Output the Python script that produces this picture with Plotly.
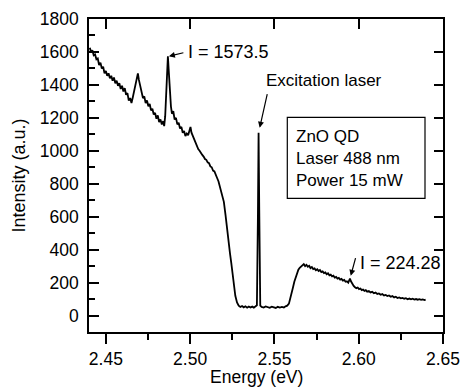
import plotly.graph_objects as go

energy_ev = [
    2.4405, 2.4412, 2.4420, 2.4428, 2.4436, 2.4444, 2.4452, 2.4460, 2.4468, 2.4476,
    2.4484, 2.4492, 2.4500, 2.4508, 2.4516, 2.4524, 2.4532, 2.4540, 2.4548, 2.4556,
    2.4564, 2.4572, 2.4580, 2.4588, 2.4596, 2.4604, 2.4612, 2.4620, 2.4628, 2.4636,
    2.4644, 2.4652, 2.4660, 2.4668, 2.4676, 2.4684, 2.4690, 2.4696, 2.4704, 2.4712,
    2.4720, 2.4728, 2.4736, 2.4744, 2.4752, 2.4760, 2.4768, 2.4776, 2.4784, 2.4792,
    2.4800, 2.4808, 2.4816, 2.4824, 2.4832, 2.4840, 2.4846, 2.4852, 2.4858, 2.4864,
    2.4868, 2.4874, 2.4880, 2.4886, 2.4892, 2.4900, 2.4908, 2.4916, 2.4924, 2.4932,
    2.4940, 2.4948, 2.4956, 2.4964, 2.4972, 2.4980, 2.4988, 2.4996, 2.5002, 2.5008,
    2.5016, 2.5024, 2.5032, 2.5040, 2.5048, 2.5056, 2.5064, 2.5072, 2.5080, 2.5088,
    2.5096, 2.5104, 2.5112, 2.5120, 2.5128, 2.5136, 2.5144, 2.5152, 2.5160, 2.5168,
    2.5176, 2.5184, 2.5192, 2.5200, 2.5210, 2.5219, 2.5228, 2.5236, 2.5244, 2.5252,
    2.5260, 2.5268, 2.5278, 2.5288, 2.5298, 2.5308, 2.5318, 2.5328, 2.5338, 2.5348,
    2.5358, 2.5368, 2.5378, 2.5388, 2.5396, 2.5402, 2.5406, 2.5410, 2.5416, 2.5424,
    2.5436, 2.5448, 2.5460, 2.5472, 2.5484, 2.5496, 2.5508, 2.5520, 2.5532, 2.5544,
    2.5556, 2.5566, 2.5576, 2.5586, 2.5594, 2.5602, 2.5610, 2.5618, 2.5626, 2.5634,
    2.5642, 2.5650, 2.5658, 2.5666, 2.5674, 2.5682, 2.5690, 2.5698, 2.5706, 2.5714,
    2.5722, 2.5730, 2.5738, 2.5746, 2.5754, 2.5762, 2.5770, 2.5778, 2.5786, 2.5794,
    2.5802, 2.5810, 2.5818, 2.5826, 2.5834, 2.5842, 2.5850, 2.5858, 2.5866, 2.5874,
    2.5882, 2.5890, 2.5898, 2.5906, 2.5914, 2.5922, 2.5930, 2.5938, 2.5944, 2.5948,
    2.5954, 2.5962, 2.5970, 2.5978, 2.5986, 2.5994, 2.6002, 2.6010, 2.6018, 2.6026,
    2.6034, 2.6042, 2.6050, 2.6060, 2.6070, 2.6080, 2.6090, 2.6100, 2.6110, 2.6120,
    2.6130, 2.6140, 2.6150, 2.6160, 2.6170, 2.6180, 2.6190, 2.6200, 2.6210, 2.6220,
    2.6230, 2.6240, 2.6250, 2.6260, 2.6270, 2.6280, 2.6290, 2.6300, 2.6310, 2.6320,
    2.6330, 2.6340, 2.6350, 2.6360, 2.6370, 2.6380, 2.6390, 2.6397,
]

intensity_au = [
    1625, 1600, 1610, 1580, 1585, 1555, 1560, 1520, 1535, 1500,
    1510, 1470, 1485, 1455, 1470, 1440, 1455, 1425, 1445, 1410,
    1425, 1395, 1410, 1375, 1395, 1360, 1380, 1340, 1350, 1305,
    1320, 1290, 1325, 1360, 1395, 1440, 1470, 1430, 1390, 1365,
    1320, 1330, 1290, 1305, 1270, 1285, 1245, 1255, 1220, 1230,
    1195, 1215, 1175, 1190, 1160, 1180, 1150, 1210, 1330, 1480,
    1573, 1470, 1360, 1270, 1225, 1240, 1190, 1200, 1160, 1170,
    1135, 1145, 1110, 1120, 1090, 1105, 1095, 1120, 1145, 1110,
    1090, 1065, 1050, 1030, 1010, 1000, 985, 975, 965, 950,
    945, 930, 925, 905, 900, 880, 875, 850, 835, 815,
    785, 745, 715, 690, 610, 520, 450, 380, 320, 250,
    180, 120, 80, 60, 52, 58, 50, 56, 48, 55,
    49, 54, 48, 55, 62, 600, 1110, 640, 60, 52,
    48, 55, 50, 47, 54, 49, 46, 53, 48, 52,
    49, 56, 60, 72, 100, 135, 170, 205, 235, 260,
    278, 290, 296, 305, 312, 300, 308, 296, 302, 288,
    294, 282, 286, 275, 281, 270, 276, 264, 268, 258,
    262, 250, 256, 244, 248, 238, 242, 230, 234, 224,
    228, 218, 222, 212, 216, 205, 208, 200, 212, 224,
    208, 192, 180, 172, 166, 170, 160, 164, 154, 158,
    150, 154, 145, 149, 140, 144, 135, 139, 131, 134,
    126, 130, 122, 125, 118, 122, 114, 118, 110, 114,
    106, 110, 104, 107, 102, 105, 99, 103, 98, 102,
    97, 100, 96, 99, 95, 98, 94, 97,
]

x_tick_values = [2.45, 2.50, 2.55, 2.60, 2.65]
x_tick_labels = ["2.45", "2.50", "2.55", "2.60", "2.65"]
y_tick_values = [0, 200, 400, 600, 800, 1000, 1200, 1400, 1600, 1800]
y_tick_labels = [str(v) for v in y_tick_values]

x_title = "Energy (eV)"
y_title = "Intensity (a.u.)"
peak_label = "I = 1573.5"
laser_label = "Excitation laser"
small_peak_label = "I = 224.28"
info_lines = ["ZnO QD", "Laser 488 nm", "Power 15 mW"]

peak_idx = energy_ev.index(2.4868)
laser_idx = energy_ev.index(2.5406)
small_idx = energy_ev.index(2.5948)

FONT = "Liberation Sans, Arial, sans-serif"
XR = [2.44, 2.65]
YR = [-100, 1800]

fig = go.Figure()
fig.add_trace(go.Scatter(
    x=energy_ev, y=intensity_au, mode="lines",
    line=dict(color="black", width=1.8), showlegend=False, hoverinfo="skip",
))
# dummy trace to realise the mirrored (top/right) axes
fig.add_trace(go.Scatter(x=[], y=[], xaxis="x2", yaxis="y2", showlegend=False))

axis_common = dict(showgrid=False, zeroline=False, linecolor="black", linewidth=1.5,
                   tickcolor="black", tickwidth=1.5, automargin=False)

fig.update_layout(
    width=461, height=387,
    margin=dict(l=89, r=18, t=19, b=55),
    paper_bgcolor="white", plot_bgcolor="white",
    font=dict(family=FONT, color="black", size=17.5),
    xaxis=dict(range=XR, tickvals=x_tick_values, ticktext=x_tick_labels,
               ticks="outside", ticklen=10, showline=True, mirror=True,
               tickfont=dict(size=17.5), ticklabelstandoff=0,
               minor=dict(ticks="outside", dtick=0.025, tick0=2.45, ticklen=6,
                          tickcolor="black", tickwidth=1.5),
               **axis_common),
    yaxis=dict(range=YR, tickvals=y_tick_values, ticktext=y_tick_labels,
               ticks="inside", ticklen=10, showline=True, mirror=True,
               tickfont=dict(size=17.5), ticklabelstandoff=5,
               minor=dict(ticks="inside", dtick=100, tick0=100, ticklen=6,
                          tickcolor="black", tickwidth=1.5),
               title=dict(text=y_title, font=dict(size=18), standoff=10),
               **axis_common),
    xaxis2=dict(range=XR, overlaying="x", side="top", anchor="y",
                tickvals=x_tick_values, showticklabels=False,
                ticks="inside", ticklen=10, showline=False, **axis_common),
    yaxis2=dict(range=YR, overlaying="y", side="right", anchor="x",
                tickvals=y_tick_values, showticklabels=False,
                ticks="inside", ticklen=9, showline=False, **axis_common),
)

# x-axis title placed below the tick labels
fig.add_annotation(x=(256.5 - 89) / 354, y=(332 - 377) / 313, xref="paper", yref="paper",
                   text=x_title, showarrow=False, xanchor="center", yanchor="middle",
                   font=dict(family=FONT, size=17.5, color="black"))

ann_font = dict(family=FONT, size=18, color="black")

# arrows
fig.add_annotation(x=energy_ev[peak_idx], y=intensity_au[peak_idx], xref="x", yref="y",
                   text="", showarrow=True, ax=17, ay=-4, arrowhead=2, arrowsize=1,
                   arrowwidth=1.2, arrowcolor="black", standoff=1)
fig.add_annotation(x=energy_ev[laser_idx], y=intensity_au[laser_idx], xref="x", yref="y",
                   text="", showarrow=True, ax=9, ay=-40, arrowhead=2, arrowsize=1,
                   arrowwidth=1.2, arrowcolor="black", standoff=5)
fig.add_annotation(x=energy_ev[small_idx], y=intensity_au[small_idx], xref="x", yref="y",
                   text="", showarrow=True, ax=6, ay=-22, arrowhead=2, arrowsize=1,
                   arrowwidth=1.2, arrowcolor="black", standoff=3)

# labels
fig.add_annotation(x=energy_ev[peak_idx], y=intensity_au[peak_idx], xref="x", yref="y",
                   text=peak_label, showarrow=False, xanchor="left", yanchor="middle",
                   xshift=18, yshift=4, font=ann_font)
fig.add_annotation(x=energy_ev[laser_idx], y=intensity_au[laser_idx], xref="x", yref="y",
                   text=laser_label, showarrow=False, xanchor="left", yanchor="middle",
                   xshift=5, yshift=52, font=dict(family=FONT, size=17, color="black"))
fig.add_annotation(x=energy_ev[small_idx], y=intensity_au[small_idx], xref="x", yref="y",
                   text=small_peak_label, showarrow=False, xanchor="left", yanchor="middle",
                   xshift=8, yshift=16, font=ann_font)

# info box
fig.add_shape(type="rect", xref="paper", yref="paper",
              x0=(287.3 - 89) / 354, x1=(425 - 89) / 354,
              y0=(332 - 198.3) / 313, y1=(332 - 117.3) / 313,
              line=dict(color="black", width=1.2), fillcolor="rgba(0,0,0,0)")
fig.add_annotation(x=(294 - 89) / 354, y=(332 - 158.3) / 313, xref="paper", yref="paper",
                   text="<br>".join(info_lines), showarrow=False, xanchor="left",
                   yanchor="middle", align="left", font=dict(family=FONT, size=17, color="black"))

fig.write_html("out.html")
